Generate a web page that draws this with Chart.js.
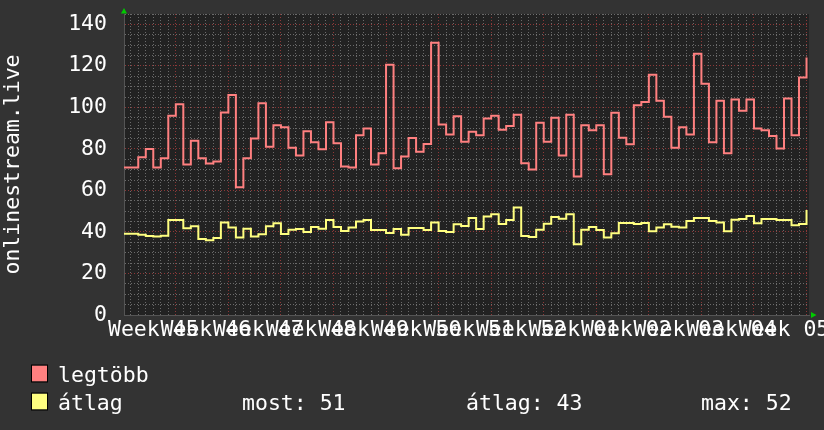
<!DOCTYPE html>
<html>
<head>
<meta charset="utf-8">
<script src="https://cdn.jsdelivr.net/npm/chart.js@4.4.0/dist/chart.umd.min.js"></script>
<style>
  html, body { margin: 0; padding: 0; background: #333333; }
  #wrap { width: 824px; height: 430px; }
</style>
</head>
<body>
<div id="wrap"><canvas id="chart" width="824" height="430"></canvas></div>
<script>
// one value per day, the first one is a partial day at the left edge
const startDay = -0.9;
const endDay = 90.33;
const seriesNames = ["legtöbb", "átlag"];
const axisTitle = "onlinestream.live";
const weekLabels = ["Week 45", "Week 46", "Week 47", "Week 48", "Week 49", "Week 50", "Week 51",
  "Week 52", "Week 01", "Week 02", "Week 03", "Week 04", "Week 05"];
const legendStats = ["most: 51", "átlag: 43", "max: 52"];

const maxValues = [71, 76, 80, 71, 75.5, 96, 101.5, 72.5, 84, 75.5,
  73, 74, 97.5, 106, 61.5, 75.5, 85, 102, 81, 91.4,
  90.4, 80.6, 76.8, 88.5, 83.2, 79.8, 92.8, 82.7, 71.5, 71,
  86.6, 89.8, 72.5, 77.9, 120.5, 70.7, 76.3, 85.3, 78.7, 82.4,
  131.2, 91.8, 87, 95.7, 83.5, 88.3, 86.6, 94.6, 96, 89.3,
  91, 96.5, 73.1, 70.1, 92.6, 83.5, 95, 76.8, 96.5, 66.7,
  91.4, 89, 91.4, 67.8, 97.4, 85.4, 82.2, 101, 102.6, 115.7,
  103.2, 95.5, 80.6, 90.4, 86.9, 125.8, 111.4, 83.2, 103.2, 77.9,
  103.8, 98.4, 103.8, 89.9, 89, 86.2, 80.2, 104.3, 86.6, 114.4,
  124];

const avgValues = [39.2, 38.7, 38.1, 37.8, 38.2, 45.8, 45.8, 41.8, 42.7, 36.6,
  36, 37.1, 44.6, 42.1, 37.3, 41.6, 37.8, 38.9, 42.7, 44.2,
  39, 41.1, 41.4, 40, 42.4, 41.6, 45.8, 42.4, 40.5, 42.1,
  45, 45.8, 41, 41, 39.5, 41.4, 38.6, 41.9, 41.9, 41,
  44.6, 40.5, 40, 43.7, 42.9, 46.7, 41.4, 47.5, 48.5, 43.8,
  45.8, 51.8, 38.1, 37.6, 41.1, 44, 47.2, 46.4, 48.5, 34.1,
  41.1, 42.4, 41, 37.3, 39.4, 44.3, 44.3, 43.8, 44.3, 40.3,
  42.2, 43.7, 42.5, 42.2, 45.3, 46.7, 46.7, 45.3, 44.6, 40.3,
  45.9, 46.2, 47.7, 44.2, 46.2, 46.2, 45.8, 45.8, 43.2, 43.8,
  50.6];

const FONT = "'DejaVu Sans Mono', monospace";
const minorGrid = "rgba(125,125,125,0.8)";
const majorGrid = "rgba(160,60,60,0.85)";

function toSteps(values) {
  const pts = [{ x: startDay, y: values[0] }];
  values.forEach((v, i) => pts.push({ x: i, y: v }));
  return pts;
}

const frame = {
  id: "frame",
  beforeDraw(chart) {
    const { ctx, chartArea: a } = chart;
    ctx.save();
    ctx.fillStyle = "#333333";
    ctx.fillRect(0, 0, chart.width, chart.height);
    ctx.fillStyle = "#222222";
    ctx.fillRect(a.left, a.top, a.right - a.left, a.bottom - a.top);
    ctx.restore();
  },
  afterDraw(chart) {
    const { ctx, chartArea: a } = chart;
    ctx.save();
    // green arrows at the axis ends
    ctx.fillStyle = "#00cc00";
    ctx.beginPath();
    ctx.moveTo(a.left - 3, 13.5);
    ctx.lineTo(a.left + 3, 13.5);
    ctx.lineTo(a.left, 8);
    ctx.fill();
    ctx.beginPath();
    ctx.moveTo(811, a.bottom - 3);
    ctx.lineTo(811, a.bottom + 3);
    ctx.lineTo(816.5, a.bottom);
    ctx.fill();

    // legend
    ctx.font = "21.5px " + FONT;
    ctx.textBaseline = "alphabetic";
    const rows = [381.5, 409.5];
    chart.data.datasets.forEach((ds, i) => {
      ctx.fillStyle = ds.borderColor;
      ctx.fillRect(32, rows[i] - 16, 15, 16);
      ctx.strokeStyle = "#000";
      ctx.lineWidth = 1;
      ctx.strokeRect(31.5, rows[i] - 16.5, 16, 17);
      ctx.fillStyle = "#ffffff";
      ctx.fillText(ds.label, 58, rows[i]);
    });
    const statX = [242, 466, 701];
    legendStats.forEach((s, i) => ctx.fillText(s, statX[i], rows[1]));
    ctx.restore();
  }
};

new Chart(document.getElementById("chart"), {
  type: "line",
  data: {
    datasets: [{
      label: seriesNames[0],
      data: toSteps(maxValues),
      borderColor: "#ff8080",
      borderWidth: 2,
      stepped: "before",
      pointRadius: 0,
      fill: false
    }, {
      label: seriesNames[1],
      data: toSteps(avgValues),
      borderColor: "#ffff80",
      borderWidth: 2,
      stepped: "before",
      pointRadius: 0,
      fill: false
    }]
  },
  options: {
    responsive: false,
    animation: false,
    devicePixelRatio: 1,
    layout: { padding: { left: 0, right: 15, top: 14, bottom: 0 } },
    plugins: { legend: { display: false }, tooltip: { enabled: false } },
    scales: {
      x: {
        type: "linear",
        min: startDay,
        max: endDay,
        afterBuildTicks: (scale) => {
          const t = [];
          for (let d = 0; d <= 90; d++) t.push({ value: d });
          scale.ticks = t;
        },
        afterFit: (scale) => {
          scale.height = 115;
          scale.paddingLeft = 0;
          scale.paddingRight = 0;
        },
        ticks: {
          autoSkip: false,
          maxRotation: 0,
          minRotation: 0,
          padding: 3,
          color: "#ffffff",
          font: { family: FONT, size: 21.5 },
          callback: (v) => ((v - 3) % 7 === 0 && v >= 3) ? weekLabels[(v - 3) / 7] : ""
        },
        grid: {
          drawTicks: false,
          color: (c) => (c.tick && (c.tick.value - 6) % 7 === 0) ? majorGrid : minorGrid,
          lineWidth: 1
        },
        border: { display: true, color: "#555555", dash: [1, 2] }
      },
      y: {
        min: 0,
        max: 145,
        afterBuildTicks: (scale) => {
          const t = [];
          for (let v = 0; v <= 145; v += 5) t.push({ value: v });
          scale.ticks = t;
        },
        afterFit: (scale) => {
          scale.width = 124;
          scale.paddingTop = 0;
          scale.paddingBottom = 0;
        },
        ticks: {
          autoSkip: false,
          padding: 17,
          color: "#ffffff",
          font: { family: FONT, size: 21.5 },
          callback: (v) => v % 20 === 0 ? String(v) : ""
        },
        grid: {
          drawTicks: false,
          color: (c) => (c.tick && c.tick.value % 20 === 0) ? majorGrid : minorGrid,
          lineWidth: 1
        },
        border: { display: true, color: "#555555", dash: [1, 2] },
        title: {
          display: true,
          text: axisTitle,
          color: "#ffffff",
          font: { family: FONT, size: 21.5 },
          padding: { top: 1, bottom: 0 }
        }
      }
    }
  },
  plugins: [frame]
});
</script>
</body>
</html>
